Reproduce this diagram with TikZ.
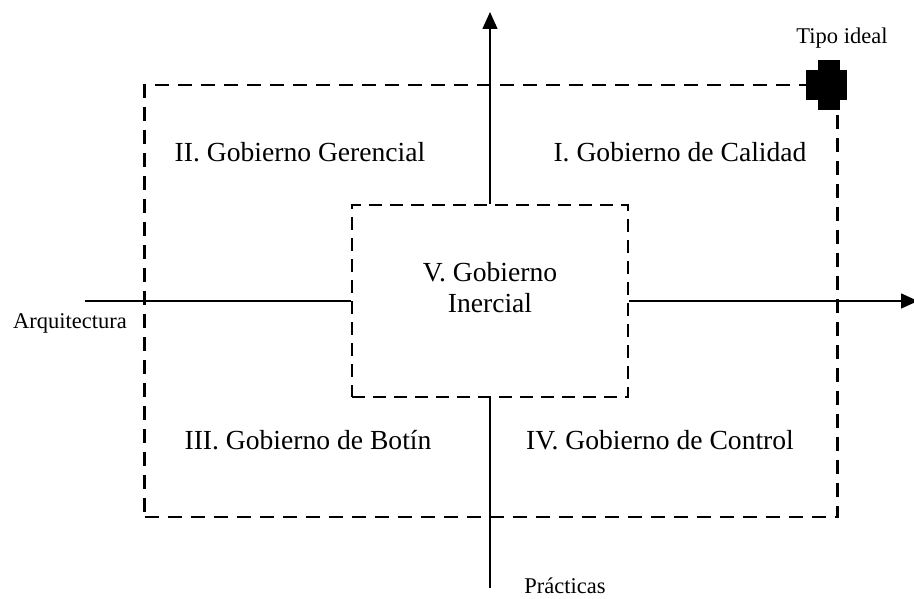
\documentclass[tikz,border=0pt]{standalone}
\usepackage{fontspec}
\setmainfont{Liberation Serif}
\usetikzlibrary{arrows.meta}
\begin{document}
\begin{tikzpicture}[x=1pt,y=-1pt,
  dashbox/.style={draw, line width=2.8pt, dash pattern=on 14pt off 9pt, minimum width=#1, inner sep=0pt},
  axis/.style={line width=1.4pt},
  bigtext/.style={font=\fontsize{27.6}{31}\selectfont, inner sep=0pt, align=center},
  smalltext/.style={font=\fontsize{22.5}{26}\selectfont, inner sep=0pt},
  tip/.style={-{Triangle[length=17pt,width=15pt]}}]
\useasboundingbox (0,0) rectangle (914,599);
% outer dashed frame
\node[dashbox=693pt, minimum height=432pt] (outer) at (491,301) {};
% inner dashed box
\node[draw, line width=2.5pt, dash pattern=on 13pt off 8pt, minimum width=276pt, minimum height=192pt, inner sep=0pt] (inner) at (490,301) {};
% axes
\coordinate (ytop) at (490,12);
\coordinate (ybot) at (490,588);
\coordinate (xleft) at (85,301);
\coordinate (xright) at (918,301);
\draw[axis, tip] (inner.north) -- (ytop);
\draw[axis] (inner.south) -- (ybot);
\draw[axis] (xleft) -- (inner.west);
\draw[axis, tip] (inner.east) -- (xright);
% ideal type cross
\fill (818,60) rectangle (840,110);
\fill (806,70) rectangle (847,100);
% labels
\node[bigtext] (q2) at (300,152) {II. Gobierno Gerencial};
\node[bigtext] (q1) at (680,152) {I. Gobierno de Calidad};
\node[bigtext] (q5) at (490,288) {V. Gobierno\\Inercial};
\node[bigtext] (q3) at (308,440) {III. Gobierno de Botín};
\node[bigtext] (q4) at (660,440) {IV. Gobierno de Control};
\node[smalltext] (la) at (70,323) {Arquitectura};
\node[smalltext] (lt) at (842,38) {Tipo ideal};
\node[smalltext] (lp) at (565,586) {Prácticas};
\end{tikzpicture}
\end{document}
